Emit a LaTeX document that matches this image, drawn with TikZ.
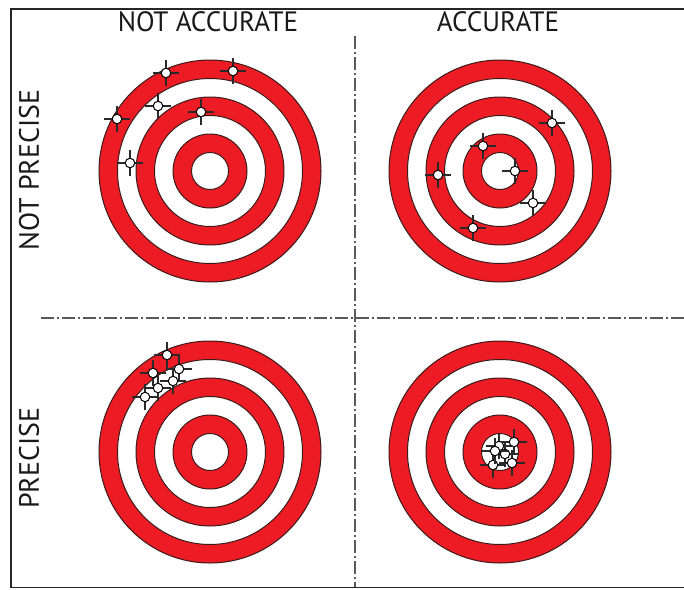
\documentclass[tikz,border=0pt]{standalone}
\usepackage{fontspec}
\setmainfont{PT Sans}
\definecolor{tred}{HTML}{ED1C24}
\definecolor{tline}{HTML}{3A1A1A}
\definecolor{xline}{HTML}{2A2A2A}
\begin{document}
\begin{tikzpicture}[x=1pt,y=-1pt,
  ring/.style={draw=tline,line width=1pt},
  frame/.style={draw=black!85,line width=1.6pt},
  dashdot/.style={draw=black!65,line width=1.1pt,dash pattern=on 13pt off 3pt on 2pt off 3pt},
  lbl/.style={font=\fontsize{28}{28}\selectfont,text=black!90,inner sep=0pt},
  shot/.style={circle,draw=black,fill=white,line width=1pt,minimum size=9.5pt,inner sep=0pt},
  hair/.style={draw=xline,line width=1.2pt}]
\useasboundingbox (0,0) rectangle (684,589);
% frame (no right edge)
\coordinate (ftr) at (684,9);
\coordinate (ftl) at (11,9);
\coordinate (fbl) at (11,587.5);
\coordinate (fbr) at (684,587.5);
\draw[frame] (ftr) -- (ftl) -- (fbl) -- (fbr);
% dividers
\coordinate (vtop) at (355,36);
\coordinate (vbot) at (355,587);
\coordinate (hl) at (41,318);
\coordinate (hr) at (684,318);
\draw[dashdot] (vtop) -- (vbot);
\draw[dashdot] (hl) -- (hr);
% targets
\foreach \cx/\cy/\nm in {210/171/tl, 500/171/tr, 210/452/bl, 500/452/br}{
  \foreach \r/\c in {111/tred, 92.5/white, 74/tred, 55.5/white, 37/tred, 18.5/white}{
    \path[ring,fill=\c] (\cx,\cy) circle[radius=\r];
  }
  \coordinate (\nm) at (\cx,\cy);
}
% labels
\node[lbl,xscale=0.97] (na) at (208,22) {NOT ACCURATE};
\node[lbl,xscale=0.97] (ac) at (498,22) {ACCURATE};
\node[lbl,rotate=90] (np) at (29,170) {NOT PRECISE};
\node[lbl,rotate=90] (pr) at (29,458) {PRECISE};
% shots
\foreach \x/\y [count=\i] in {166/73, 233/71, 158/106, 201/112, 117/119, 130/163,
  552/123, 483/146, 438/175, 515/171, 533/203, 473/228,
  167/355, 153/373, 179/369, 173/381, 158/388, 145/397,
  499/446, 514/442, 505/454, 493/465, 512/463, 495/451}{
  \draw[hair] (\x-13,\y) -- (\x+13,\y) (\x,\y-13) -- (\x,\y+13);
  \node[shot] (s\i) at (\x,\y) {};
}
\end{tikzpicture}
\end{document}
